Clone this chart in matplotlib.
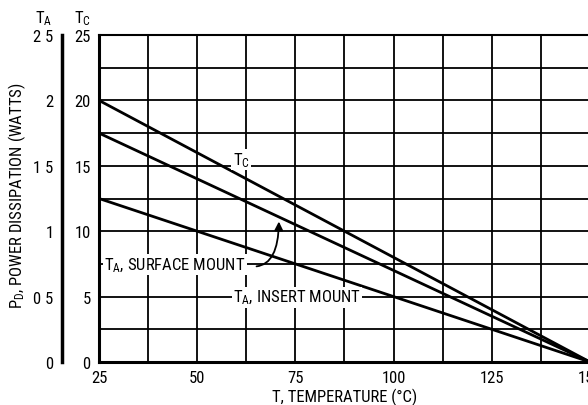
import numpy as np
import matplotlib
matplotlib.use("Agg")
import matplotlib.pyplot as plt
from matplotlib.patches import FancyArrowPatch

# ── Data ─────────────────────────────────────────────────────────────────────
temp = [25, 150]
pd_tc = [20, 0]            # T_C curve (Tc scale)
pd_surface = [17.5, 0]     # T_A surface mount
pd_insert = [12.5, 0]      # T_A insert mount

x_ticks = [25, 50, 75, 100, 125, 150]
x_minor = [37.5, 62.5, 87.5, 112.5, 137.5]
tc_ticks = [0, 5, 10, 15, 20, 25]
tc_minor = [2.5, 7.5, 12.5, 17.5, 22.5]
ta_ticks = [0, 0.5, 1, 1.5, 2, 2.5]
ta_labels = ["0", "0 5", "1", "1 5", "2", "2 5"]

FONT = ["Roboto Condensed", "DejaVu Sans"]
plt.rcParams["font.family"] = FONT
plt.rcParams["mathtext.fontset"] = "custom"
plt.rcParams["mathtext.rm"] = "Roboto Condensed"
plt.rcParams["mathtext.it"] = "Roboto Condensed"
FS = 12

W, H = 588, 406
fig = plt.figure(figsize=(W / 100, H / 100), dpi=100)

def fx(px): return px / W
def fy(py): return 1 - py / H

# main Tc axes
left, right, top, bot = 99, 590, 36, 363
ax = fig.add_axes([fx(left), fy(bot), fx(right - left), fy(top) - fy(bot)])
ax.set_xlim(25, 150)
ax.set_ylim(0, 25)
ax.set_xticks(x_ticks)
ax.set_xticks(x_minor, minor=True)
ax.set_yticks(tc_ticks)
ax.set_yticks(tc_minor, minor=True)
ax.grid(True, which="both", color="black", linewidth=1.3)
ax.tick_params(which="both", length=0, labelsize=FS)
ax.tick_params(axis="y", pad=6)
ax.tick_params(axis="x", pad=6)
for side in ["left", "bottom"]:
    ax.spines[side].set_linewidth(2.2)
ax.spines["top"].set_linewidth(1.5)
ax.spines["right"].set_visible(False)

ax.plot(temp, pd_tc, color="black", linewidth=2.0, solid_capstyle="butt")
ax.plot(temp, pd_surface, color="black", linewidth=2.0, solid_capstyle="butt")
ax.plot(temp, pd_insert, color="black", linewidth=2.0, solid_capstyle="butt")

ax.set_xlabel("T, TEMPERATURE (°C)", fontsize=FS, labelpad=2)

bbox = dict(facecolor="white", edgecolor="none", pad=1)
ax.text(59.0, 15.5, "T$_\\mathrm{C}$", fontsize=FS, ha="left", va="center", bbox=bbox)
ax.text(26.3, 7.45, "T$_\\mathrm{A}$, SURFACE MOUNT", fontsize=FS, ha="left",
        va="center", bbox=bbox)
ax.text(59.1, 4.95, "T$_\\mathrm{A}$, INSERT MOUNT", fontsize=FS, ha="left",
        va="center", bbox=bbox)

arrow = FancyArrowPatch((64.4, 7.3), (70.8, 10.95),
                        connectionstyle="angle3,angleA=0,angleB=90",
                        arrowstyle="-|>,head_length=5,head_width=2.5",
                        color="black", linewidth=1.3)
ax.add_patch(arrow)

# TA scale axis on far left
ax2 = fig.add_axes([fx(62), fy(bot), 0.001, fy(top) - fy(bot)])
ax2.set_ylim(0, 2.5)
ax2.set_yticks(ta_ticks)
ax2.set_yticklabels(ta_labels)
ax2.set_xticks([])
ax2.tick_params(length=0, labelsize=FS, pad=6)
for side in ["top", "right", "bottom"]:
    ax2.spines[side].set_visible(False)
ax2.spines["left"].set_linewidth(2.5)
ax2.patch.set_visible(False)

fig.text(fx(44), fy(19), "T$_\\mathrm{A}$", fontsize=FS, ha="center", va="center")
fig.text(fx(82), fy(19), "T$_\\mathrm{C}$", fontsize=FS, ha="center", va="center")
fig.text(fx(17), fy(196), "P$_\\mathrm{D}$, POWER DISSIPATION (WATTS)", fontsize=FS,
         rotation=90, ha="center", va="center")

fig.savefig("out.png", dpi=100)
